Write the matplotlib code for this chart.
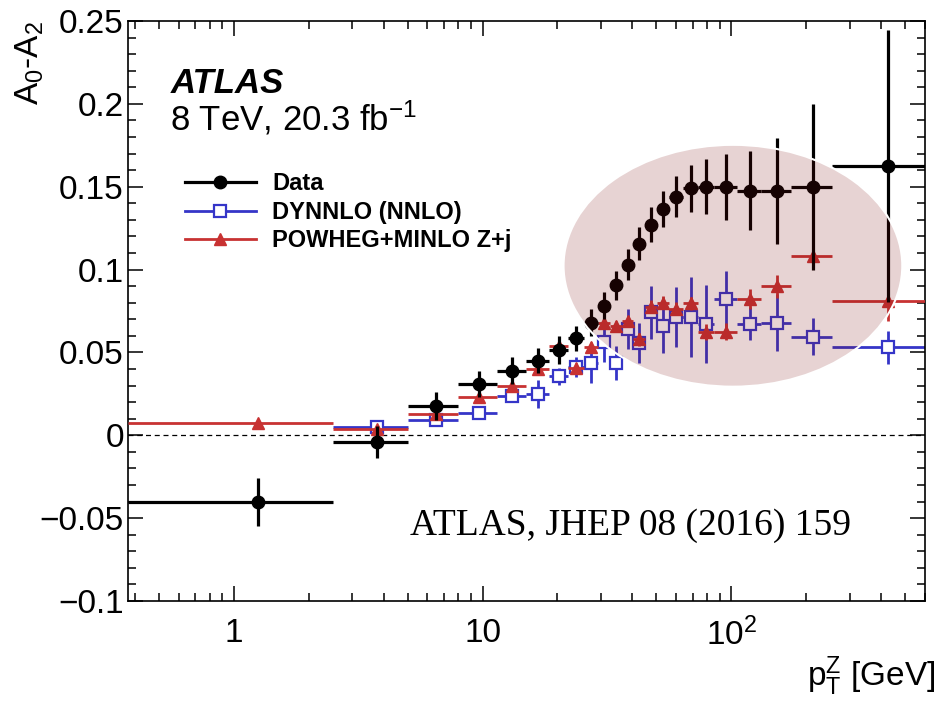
import numpy as np
import matplotlib.pyplot as plt
from matplotlib.lines import Line2D
from matplotlib.patches import Ellipse
from matplotlib.ticker import FixedLocator, FixedFormatter, LogLocator, MultipleLocator, NullFormatter

plt.rcParams['font.family'] = 'Liberation Sans'
plt.rcParams['mathtext.fontset'] = 'custom'
plt.rcParams['mathtext.rm'] = 'Liberation Sans'
plt.rcParams['mathtext.it'] = 'Liberation Sans:italic'
plt.rcParams['mathtext.bf'] = 'Liberation Sans:bold'

# pT(Z) bin edges in GeV
bin_edges = [0, 2.5, 5, 8, 11.4, 14.9, 18.5, 22, 25.5, 29, 32.6, 36.4, 40.4,
             44.9, 50.2, 56.4, 63.9, 73.4, 85.4, 105, 132, 173, 253, 600]

# A0 - A2, measured
data_vals = [-0.040, -0.004, 0.0175, 0.031, 0.039, 0.045, 0.0516, 0.0586, 0.068,
             0.0783, 0.0904, 0.103, 0.1155, 0.127, 0.1366, 0.144, 0.149, 0.150,
             0.150, 0.1476, 0.1476, 0.150, 0.1627]
data_errs = [0.0145, 0.0095, 0.0085, 0.008, 0.008, 0.0075, 0.0085, 0.0075, 0.008,
             0.008, 0.0085, 0.0095, 0.010, 0.0105, 0.011, 0.0125, 0.014, 0.0165,
             0.020, 0.0237, 0.032, 0.050, 0.082]

# DYNNLO (NNLO), no prediction in the first bin
dynnlo_vals = [np.nan, 0.005, 0.009, 0.0134, 0.024, 0.0247, 0.0355, 0.041, 0.0436,
               0.056, 0.0436, 0.0643, 0.0556, 0.0743, 0.0658, 0.0713, 0.0713, 0.0673,
               0.082, 0.0673, 0.068, 0.0596, 0.0532]
dynnlo_errs = [np.nan, 0.002, 0.003, 0.003, 0.004, 0.0085, 0.005, 0.006, 0.012,
               0.012, 0.010, 0.012, 0.012, 0.016, 0.016, 0.018, 0.024, 0.0235,
               0.017, 0.010, 0.017, 0.011, 0.010]

# POWHEG+MINLO Z+j
powheg_vals = [0.0074, 0.004, 0.0128, 0.023, 0.0295, 0.040, 0.054, 0.0405, 0.0532,
               0.0677, 0.066, 0.069, 0.058, 0.0777, 0.080, 0.0763, 0.0797, 0.0622,
               0.0625, 0.0825, 0.090, 0.108, 0.0809]
powheg_errs = [0.001, 0.002, 0.002, 0.002, 0.002, 0.002, 0.003, 0.003, 0.003, 0.003,
               0.003, 0.003, 0.004, 0.004, 0.004, 0.004, 0.004, 0.005, 0.005, 0.006,
               0.007, 0.007, 0.012]

ytick_vals = [-0.1, -0.05, 0, 0.05, 0.1, 0.15, 0.2, 0.25]
ytick_labels = ['\u22120.1', '\u22120.05', '0', '0.05', '0.1', '0.15', '0.2', '0.25']
xtick_vals = [1, 10, 100]
xtick_labels = ['1', '10', '10$^{2}$']

x_min, x_max = 0.376, 600

edges = np.array(bin_edges, dtype=float)
lo = np.maximum(edges[:-1], x_min)
hi = edges[1:]
mid = 0.5 * (edges[:-1] + edges[1:])
xerr = [mid - lo, hi - mid]

fig = plt.figure(figsize=(9.36, 7.06), dpi=100)
ax = fig.add_axes([128 / 936, 105 / 706, 797 / 936, 580 / 706])

ax.axhline(0, color='black', lw=0.9, ls=(0, (4, 3)), zorder=1)

blue = '#3535c8'
red = '#c83232'

ax.errorbar(mid, dynnlo_vals, xerr=xerr, yerr=dynnlo_errs, fmt='s', color=blue,
            ms=9, mfc='white', mec=blue, mew=1.6, elinewidth=2.0, capsize=0, zorder=2)
ax.errorbar(mid, powheg_vals, xerr=xerr, yerr=powheg_errs, fmt='^', color=red,
            ms=9, elinewidth=2.0, capsize=0, zorder=3)
ax.errorbar(mid, data_vals, xerr=xerr, yerr=data_errs, fmt='o', color='black',
            ms=9, elinewidth=2.3, capsize=0, zorder=4)

# highlighted region
ax.add_patch(Ellipse((0.759, 0.578), 0.425, 0.417, transform=ax.transAxes,
                     facecolor='#7f1010', alpha=0.18, edgecolor='none', zorder=10))
ax.add_patch(Ellipse((0.759, 0.578), 0.425, 0.417, transform=ax.transAxes,
                     facecolor='none', edgecolor='white', lw=1.5, zorder=11))

ax.set_xscale('log')
ax.set_xlim(x_min, x_max)
ax.set_ylim(-0.1, 0.25)

ax.xaxis.set_major_locator(FixedLocator(xtick_vals))
ax.xaxis.set_major_formatter(FixedFormatter(xtick_labels))
ax.xaxis.set_minor_locator(LogLocator(base=10, subs=np.arange(2, 10)))
ax.xaxis.set_minor_formatter(NullFormatter())
ax.yaxis.set_major_locator(FixedLocator(ytick_vals))
ax.yaxis.set_major_formatter(FixedFormatter(ytick_labels))
ax.yaxis.set_minor_locator(MultipleLocator(0.01))

ax.tick_params(which='both', direction='in', top=True, right=True, width=1.1)
ax.tick_params(which='major', length=11, labelsize=24)
ax.tick_params(which='minor', length=6)
ax.tick_params(axis='x', which='major', pad=12)
ax.tick_params(axis='y', which='major', pad=3)
for s in ax.spines.values():
    s.set_linewidth(1.2)

fig.text(0.032, 0.970, 'A$_{0}$-A$_{2}$', rotation=90, ha='center', va='top', fontsize=24)
fig.text(0.999, 0.028, 'p$_{\\mathrm{T}}^{\\mathrm{Z}}$ [GeV]', ha='right', va='baseline',
         fontsize=24)

ax.text(0.053, 0.876, 'ATLAS', transform=ax.transAxes, fontsize=25,
        fontweight='bold', fontstyle='italic')
ax.text(0.053, 0.812, '8 TeV, 20.3 fb$^{-1}$', transform=ax.transAxes, fontsize=25)
ax.text(0.354, 0.114, 'ATLAS, JHEP 08 (2016) 159', transform=ax.transAxes,
        fontsize=27, family='Liberation Serif')

handles = [
    Line2D([], [], color='black', marker='o', ms=9, lw=2.3),
    Line2D([], [], color=blue, marker='s', ms=9, mfc='white', mew=1.6, lw=2.0),
    Line2D([], [], color=red, marker='^', ms=9, lw=2.0),
]
labels = ['Data', 'DYNNLO (NNLO)', 'POWHEG+MINLO Z+j']
ax.legend(handles, labels, loc='upper left', bbox_to_anchor=(0.0715, 0.739),
          frameon=False, borderpad=0, borderaxespad=0, handlelength=3.0,
          handletextpad=0.7, labelspacing=0.23,
          prop={'family': 'Liberation Sans', 'weight': 'bold', 'size': 17})

fig.savefig('out.png', dpi=100)
